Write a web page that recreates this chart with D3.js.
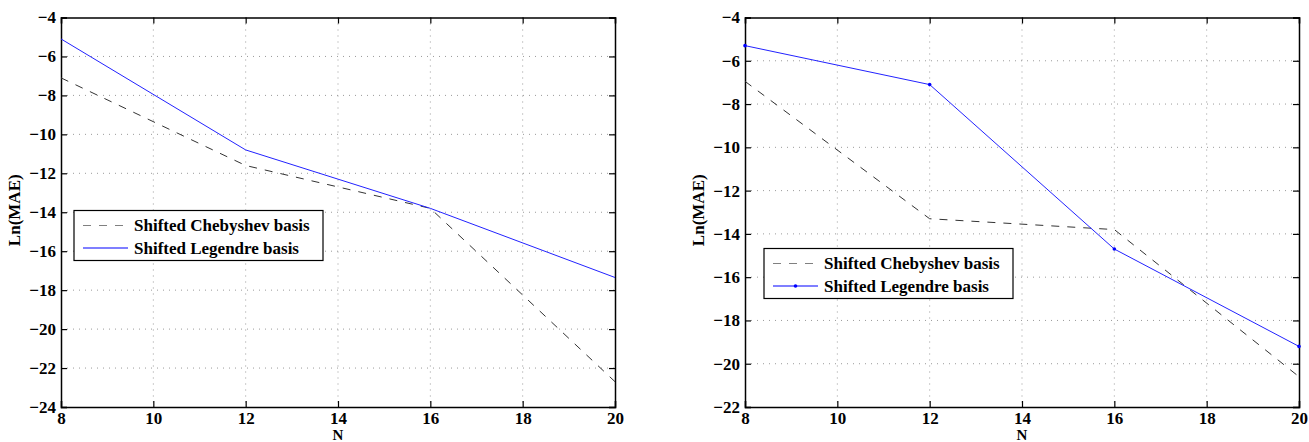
<!DOCTYPE html>
<html>
<head>
<meta charset="utf-8">
<script src="https://cdn.jsdelivr.net/npm/d3@7"></script>
<style>
  body { margin: 0; background: #fff; }
  svg { display: block; }
</style>
</head>
<body>
<svg id="plot" width="1309" height="442"></svg>
<script>
// data
const nValues = [8, 12, 16, 20];
const xTicks = [8, 10, 12, 14, 16, 18, 20];

const chebLeft = [-7.1, -11.6, -13.8, -22.7];
const legLeft = [-5.1, -10.8, -13.8, -17.35];
const yTicksLeft = [-24, -22, -20, -18, -16, -14, -12, -10, -8, -6, -4];

const chebRight = [-6.95, -13.3, -13.8, -20.6];
const legRight = [-5.3, -7.1, -14.7, -19.2];
const yTicksRight = [-22, -20, -18, -16, -14, -12, -10, -8, -6, -4];

const seriesNames = ["Shifted Chebyshev basis", "Shifted Legendre basis"];

const serif = "'Liberation Serif', 'Times New Roman', 'DejaVu Serif', serif";
const svg = d3.select("#plot");
const plotTop = 17.5, plotBottom = 407, plotW = 554;

function styleText(sel) {
  sel.attr("font-family", serif).attr("font-weight", "bold")
    .attr("font-size", 17).attr("fill", "#000");
}

function drawPanel(left, cheb, leg, yTicks, yDomain, markers, legendPos) {
  const g = svg.append("g");
  const x = d3.scaleLinear().domain([8, 20]).range([left, left + plotW]);
  const y = d3.scaleLinear().domain(yDomain).range([plotBottom, plotTop]);

  // dotted grid
  g.append("g").selectAll("line").data(xTicks.slice(1, -1)).enter().append("line")
    .attr("x1", d => x(d)).attr("x2", d => x(d))
    .attr("y1", plotTop).attr("y2", plotBottom)
    .attr("stroke", "#9a9a9a").attr("stroke-width", 1)
    .attr("stroke-dasharray", "1,5");
  g.append("g").selectAll("line").data(yTicks.slice(1, -1)).enter().append("line")
    .attr("x1", left).attr("x2", left + plotW)
    .attr("y1", d => y(d)).attr("y2", d => y(d))
    .attr("stroke", "#9a9a9a").attr("stroke-width", 1)
    .attr("stroke-dasharray", "1,5");

  // axes with inward ticks
  const ax = g.append("g").attr("transform", `translate(0,${plotBottom})`)
    .call(d3.axisBottom(x).tickValues(xTicks).tickSize(-6).tickPadding(5).tickFormat(d3.format("d")));
  ax.selectAll("text").call(styleText);
  g.append("g").attr("transform", `translate(0,${plotTop})`)
    .call(d3.axisTop(x).tickValues(xTicks).tickSize(-6).tickFormat(""));
  const ay = g.append("g").attr("transform", `translate(${left},0)`)
    .call(d3.axisLeft(y).tickValues(yTicks).tickSize(-6).tickPadding(5));
  ay.selectAll("text").call(styleText);
  g.append("g").attr("transform", `translate(${left + plotW},0)`)
    .call(d3.axisRight(y).tickValues(yTicks).tickSize(-6).tickFormat(""));
  g.selectAll(".domain").attr("stroke", "#000").attr("stroke-width", 1.5);
  g.selectAll(".tick line").attr("stroke", "#000").attr("stroke-width", 1.2);

  // axis labels
  g.append("text")
    .attr("x", left + plotW / 2).attr("y", 440)
    .attr("text-anchor", "middle")
    .call(styleText)
    .attr("font-size", 15)
    .text("N");
  g.append("text")
    .attr("transform", `translate(${left - 41},${(plotTop + plotBottom) / 2 - 2}) rotate(-90)`)
    .attr("text-anchor", "middle")
    .call(styleText)
    .text("Ln(MAE)");

  const line = d3.line().x((d, i) => x(nValues[i])).y(d => y(d));

  g.append("path").datum(cheb)
    .attr("d", line).attr("fill", "none")
    .attr("stroke", "#333").attr("stroke-width", 1)
    .attr("stroke-dasharray", "8,8");
  g.append("path").datum(leg)
    .attr("d", line).attr("fill", "none")
    .attr("stroke", "#2222ff").attr("stroke-width", 1);
  if (markers) {
    g.append("g").selectAll("circle").data(leg).enter().append("circle")
      .attr("cx", (d, i) => x(nValues[i])).attr("cy", d => y(d))
      .attr("r", 1.8).attr("fill", "#0000ff");
  }

  // legend
  const lg = g.append("g").attr("transform", `translate(${legendPos[0]},${legendPos[1]})`);
  lg.append("rect").attr("width", 249).attr("height", 50)
    .attr("fill", "#fff").attr("stroke", "#000").attr("stroke-width", 1.2);
  const rows = lg.selectAll(".row").data(seriesNames).enter().append("g")
    .attr("transform", (d, i) => `translate(0,${15 + i * 22.5})`);
  rows.append("line").attr("x1", 9).attr("x2", 54)
    .attr("stroke", (d, i) => i === 0 ? "#808080" : "#0000ff")
    .attr("stroke-width", 1.2)
    .attr("stroke-dasharray", (d, i) => i === 0 ? "8,8" : null);
  if (markers) {
    rows.filter((d, i) => i === 1).append("circle")
      .attr("cx", 31.5).attr("cy", 0).attr("r", 1.8).attr("fill", "#0000ff");
  }
  rows.append("text").attr("x", 60).attr("y", 5.5)
    .call(styleText)
    .text(d => d);
}

drawPanel(61, chebLeft, legLeft, yTicksLeft, [-24, -4], false, [74, 210.5]);
drawPanel(745, chebRight, legRight, yTicksRight, [-22, -4], true, [764, 248.5]);
</script>
</body>
</html>
